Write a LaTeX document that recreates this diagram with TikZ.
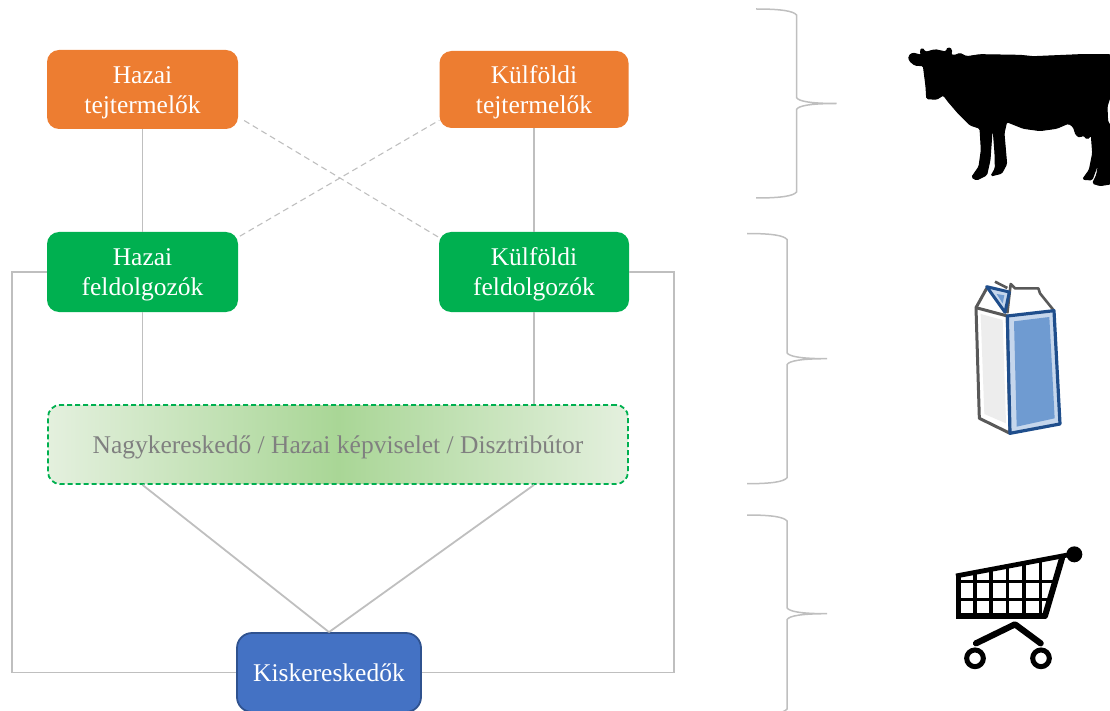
\documentclass[tikz,border=0pt]{standalone}
\usepackage{fontspec}
\setmainfont{Liberation Serif}
\definecolor{tejorange}{HTML}{ED7D31}
\definecolor{feldgreen}{HTML}{00B050}
\definecolor{kiskblue}{HTML}{4472C4}
\definecolor{kiskline}{HTML}{2F528F}
\definecolor{connline}{HTML}{BFBFBF}
\definecolor{wholeout}{HTML}{E4F0DE}
\definecolor{wholemid}{HTML}{A9D696}
\definecolor{cartonline}{HTML}{595959}
\definecolor{cartonblue}{HTML}{1F4E8C}
\definecolor{cartonfill}{HTML}{6F9BD1}
\definecolor{cartonpale}{HTML}{C5D6EC}
\tikzset{
  box/.style={rectangle, rounded corners=12pt, text=white, align=center, inner sep=0pt,
    font=\fontsize{25.5}{30}\selectfont, text height=47.5pt, text depth=0pt},
  onebox/.style={box, text height=17.5pt},
  tejbox/.style={box, fill=tejorange, minimum height=78pt},
  feldbox/.style={box, fill=feldgreen, minimum width=190pt, minimum height=80pt},
  conn/.style={draw=connline, line width=1.8pt},
  dashconn/.style={draw=connline, line width=1.1pt, dash pattern=on 6pt off 4pt},
  sidebrace/.style={draw=connline, line width=1.5pt}
}
\begin{document}
\begin{tikzpicture}[x=1pt, y=-1pt]
  \useasboundingbox (0,0) rectangle (1110,711);

  %Define nodes
  \node[tejbox, minimum width=191pt, minimum height=79pt] (hazaitej) at (142.5,89.5) {Hazai\\tejtermelők};
  \node[tejbox, minimum width=189pt, minimum height=77pt] (kulftej) at (534,89.5) {Külföldi\\tejtermelők};
  \node[feldbox, minimum width=191pt] (hazaifeld) at (142.5,272) {Hazai\\feldolgozók};
  \node[feldbox] (kulffeld) at (534,272) {Külföldi\\feldolgozók};
  \node[onebox, text=black!50, shade, left color=wholeout, right color=wholeout, middle color=wholemid,
    draw=feldgreen, line width=1.8pt, dash pattern=on 5pt off 3pt,
    minimum width=580pt, minimum height=79pt] (whole) at (338,444.5) {Nagykereskedő / Hazai képviselet / Disztribútor};
  \node[onebox, fill=kiskblue, draw=kiskline, line width=1.8pt, rounded corners=15pt,
    minimum width=184pt, minimum height=79pt] (kisker) at (329,672.5) {Kiskereskedők};
  \coordinate (frameL) at (12,672.5);
  \coordinate (frameR) at (674,672.5);

  % Connect the nodes
  \draw[conn] (hazaitej) -- (hazaifeld);
  \draw[conn] (kulftej) -- (kulffeld);
  \draw[dashconn, shorten <=7pt] (hazaitej.-16) -- (kulffeld.160);
  \draw[dashconn, shorten <=2pt] (hazaifeld.20) -- (kulftej.198);
  \draw[conn] (hazaifeld.south) -- (hazaifeld.south |- whole.north);
  \draw[conn] (kulffeld.south) -- (kulffeld.south |- whole.north);
  \draw[conn] (hazaifeld.south |- whole.south) -- (kisker.north);
  \draw[conn] (kulffeld.south |- whole.south) -- (kisker.north);
  \draw[conn] (hazaifeld.west) -| (frameL) -- (kisker.west);
  \draw[conn] (kulffeld.east) -| (frameR) -- (kisker.east);

  % Braces
  \foreach \xa/\xb/\ya/\yb/\yc in {756/796.5/9/103.5/198, 747/787/233.5/358.7/483.7, 747/787/515/613.7/715}
    \draw[sidebrace] (\xa,\ya) .. controls (\xa+25,\ya) and (\xb-3,\ya+2) .. (\xb,\ya+6)
      -- (\xb,\yb-6) .. controls (\xb+2,\yb-2) and (\xb+15,\yb) .. (\xb+40,\yb)
      .. controls (\xb+15,\yb) and (\xb+2,\yb+2) .. (\xb,\yb+6)
      -- (\xb,\yc-6) .. controls (\xb-3,\yc-2) and (\xa+25,\yc) .. (\xa,\yc);

  % Cow
  \begin{scope}[shift={(880,20)}, x=0.3333pt, y=-0.3333pt]
    \filldraw[black, line width=1pt, rounded corners=1.5pt] (86,108) -- (98,99) -- (125,106) -- (120,93) -- (127,84) -- (136,97)
      -- (165,89) -- (198,96) -- (204,82) -- (216,89) -- (212,104) -- (222,107) -- (240,100) -- (260,110)
      -- (300,104) -- (420,106) -- (460,110) -- (600,104) -- (692,104) -- (692,225) -- (681,260) -- (683,305)
      -- (692,318) -- (692,492) -- (660,497) -- (638,490) -- (650,465) -- (658,420) -- (636,480) -- (608,478)
      -- (628,450) -- (638,400) -- (634,345) -- (622,358) -- (610,345) -- (600,352) -- (588,345) -- (580,320)
      -- (565,310) -- (530,325) -- (480,332) -- (430,325) -- (380,305) -- (372,340) -- (380,432) -- (365,460)
      -- (333,468) -- (346,445) -- (345,400) -- (340,335) -- (336,335) -- (330,420) -- (320,465) -- (290,480)
      -- (275,472) -- (297,440) -- (304,390) -- (300,325) -- (270,315) -- (235,280) -- (205,245) -- (190,225)
      -- (170,238) -- (140,236) -- (138,200) -- (130,137) -- (105,136) -- (88,122) -- cycle;
  \end{scope}

  % Carton
  \begin{scope}[shift={(950,270)}, x=0.3333pt, y=-0.3333pt, line join=round]
    \fill[white] (78,113) -- (172,138) -- (180,490) -- (88,445) -- cycle;
    \fill[black!7] (92,132) -- (158,150) -- (168,460) -- (103,432) -- cycle;
    \draw[cartonline, line width=3pt] (172,138) -- (78,113) -- (88,445) -- (180,490) -- (172,138);
    \draw[cartonline, line width=3pt] (78,113) -- (110,55);
    \draw[cartonline, line width=2.6pt] (135,35) -- (172,54);
    \draw[cartonline, line width=2.6pt] (172,130) -- (182,42) -- (195,55) -- (265,55) -- (270,70) -- (312,122);
    \filldraw[draw=cartonblue, fill=cartonpale, line width=3pt] (110,50) -- (178,66) -- (165,127) -- cycle;
    \fill[cartonfill] (140,72) -- (163,76) -- (158,100) -- cycle;
    \filldraw[draw=cartonblue, fill=cartonpale, line width=3.2pt] (172,138) -- (312,122) -- (330,462) -- (180,490) -- cycle;
    \fill[cartonfill] (192,154) -- (298,141) -- (314,445) -- (200,470) -- cycle;
  \end{scope}

  % Cart
  \begin{scope}[shift={(930,530)}, x=0.3333pt, y=-0.3333pt, line cap=round]
    \begin{scope}
      \clip (78,132) -- (410,70) -- (345,265) -- (78,265) -- cycle;
      \foreach \gridx in {135,183,233,282,331}
        \draw[black, line width=3.4pt] (\gridx,60) -- (\gridx,270);
      \foreach \gridy in {155,208}
        \draw[black, line width=3.4pt] (70,\gridy) -- (420,\gridy);
    \end{scope}
    \draw[black, line width=5.4pt, line cap=butt, line join=miter] (86,135) -- (86,258) -- (347,258);
    \draw[black, line width=4.8pt, line cap=butt] (78,138) -- (418,74);
    \draw[black, line width=6pt] (396,85) -- (345,258);
    \fill[black] (433,73) circle (24);
    \draw[black, line width=6.2pt, line join=round] (138,340) -- (255,283) -- (332,340);
    \draw[black, line width=5pt] (135,385) circle (25);
    \draw[black, line width=5pt] (333,385) circle (25);
  \end{scope}
\end{tikzpicture}
\end{document}
